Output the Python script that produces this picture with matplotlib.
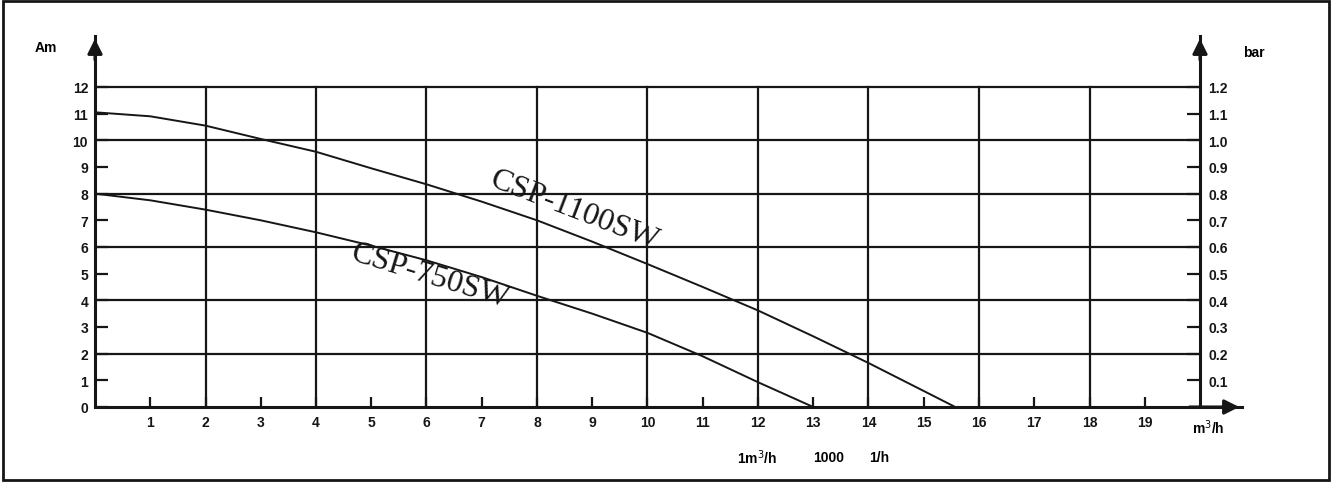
import matplotlib
matplotlib.use('Agg')
import matplotlib.pyplot as plt
from matplotlib.patches import Rectangle

# 数据
flow_1100 = [0, 1, 2, 3, 4, 5, 6, 7, 8, 9, 10, 11, 12, 13, 14, 15, 15.57]
head_1100 = [11.05, 10.9, 10.55, 10.05, 9.57, 8.95, 8.35, 7.7, 7.0, 6.2, 5.36, 4.5, 3.62, 2.65, 1.65, 0.6, 0.0]
flow_750 = [0, 1, 2, 3, 4, 5, 6, 7, 8, 9, 10, 11, 12, 13]
head_750 = [8.0, 7.75, 7.4, 7.0, 6.55, 6.05, 5.5, 4.87, 4.17, 3.5, 2.78, 1.9, 0.93, 0.0]

x_ticks = list(range(1, 20))
y_ticks = list(range(0, 13))
bar_ticks = [0.1, 0.2, 0.3, 0.4, 0.5, 0.6, 0.7, 0.8, 0.9, 1.0, 1.1, 1.2]
bar_labels = ['0.1', '0.2', '0.3', '0.4', '0.5', '0.6', '0.7', '0.8', '0.9', '1.0', '1.1', '1.2']

W, H = 1332, 485
fig = plt.figure(figsize=(W / 100, H / 100), dpi=100)

# 像素 -> 图坐标
def fx(px):
    return px / W

def fy(py):
    return 1 - py / H

x_max = (1242 - 95) / 55.25
y_max = (408 - 37) / 26.67
ax = fig.add_axes([fx(95), fy(408), fx(1242) - fx(95), fy(37) - fy(408)])
ax.set_xlim(0, x_max)
ax.set_ylim(0, y_max)
ax.patch.set_alpha(0)

ink = '#161616'
tick_font = dict(family='Liberation Sans', weight='bold', size=10)

# 网格线
for yv in range(2, 13, 2):
    ax.plot([0, 20], [yv, yv], color=ink, lw=1.6, zorder=1)
for xv in range(2, 20, 2):
    ax.plot([xv, xv], [0, 12], color=ink, lw=1.6, zorder=1)

# 曲线
ax.plot(flow_1100, head_1100, color=ink, lw=1.4, zorder=2)
ax.plot(flow_750, head_750, color=ink, lw=1.4, zorder=2)

ax.text((575 - 95) / 55.25, (408 - 211) / 26.67, 'CSP-1100SW', rotation=-21,
        ha='center', va='center', fontsize=23, family='Liberation Serif', color=ink,
        rotation_mode='anchor')
ax.text((430 - 95) / 55.25, (408 - 277) / 26.67, 'CSP-750SW', rotation=-17,
        ha='center', va='center', fontsize=23, family='Liberation Serif', color=ink,
        rotation_mode='anchor')

# 坐标轴
for s in ['top', 'right']:
    ax.spines[s].set_visible(False)
for s in ['left', 'bottom']:
    ax.spines[s].set_linewidth(2.2)
    ax.spines[s].set_color(ink)

ax.set_xticks(x_ticks)
ax.set_xticklabels([str(v) for v in x_ticks], fontdict=tick_font)
ax.set_yticks(y_ticks)
ax.set_yticklabels([str(v) for v in y_ticks], fontdict=tick_font)
ax.tick_params(axis='x', direction='in', length=7, width=1.6, pad=6, colors=ink)
ax.tick_params(axis='y', direction='in', length=9.5, width=1.6, pad=5, colors=ink)

ax2 = ax.twinx()
ax2.set_ylim(0, y_max / 10)
for s in ['top', 'left', 'bottom']:
    ax2.spines[s].set_visible(False)
ax2.spines['right'].set_position(('data', 20))
ax2.spines['right'].set_linewidth(2.2)
ax2.spines['right'].set_color(ink)
ax2.set_yticks(bar_ticks)
ax2.set_yticklabels(bar_labels, fontdict=tick_font)
ax2.tick_params(axis='y', direction='in', length=9.5, width=1.6, pad=6, colors=ink)

# 箭头
arrow = dict(arrowstyle='-|>', color=ink, lw=2.2, mutation_scale=22)
ax.annotate('', xy=(0, y_max), xytext=(0, y_max - 1), arrowprops=arrow, annotation_clip=False)
ax.annotate('', xy=(20, y_max), xytext=(20, y_max - 1), arrowprops=arrow, annotation_clip=False)
ax.annotate('', xy=(x_max, 0), xytext=(x_max - 1, 0), arrowprops=arrow, annotation_clip=False)

# 单位标注
fig.text(fx(46), fy(48), 'Am', ha='center', va='center', **tick_font)
fig.text(fx(1254), fy(53), 'bar', ha='center', va='center', **tick_font)
fig.text(fx(1208), fy(428), 'm$^3$/h', ha='center', va='center', **tick_font)
fig.text(fx(757), fy(458), '1m$^3$/h', ha='center', va='center', **tick_font)
fig.text(fx(829), fy(458), '1000', ha='center', va='center', **tick_font)
fig.text(fx(879), fy(458), '1/h', ha='center', va='center', **tick_font)

# 外边框
fig.patches.append(Rectangle((fx(3), fy(481)), fx(1329) - fx(3), fy(2) - fy(481),
                             transform=fig.transFigure, fill=False, lw=2, edgecolor=ink))

fig.savefig('out.png', dpi=100)
